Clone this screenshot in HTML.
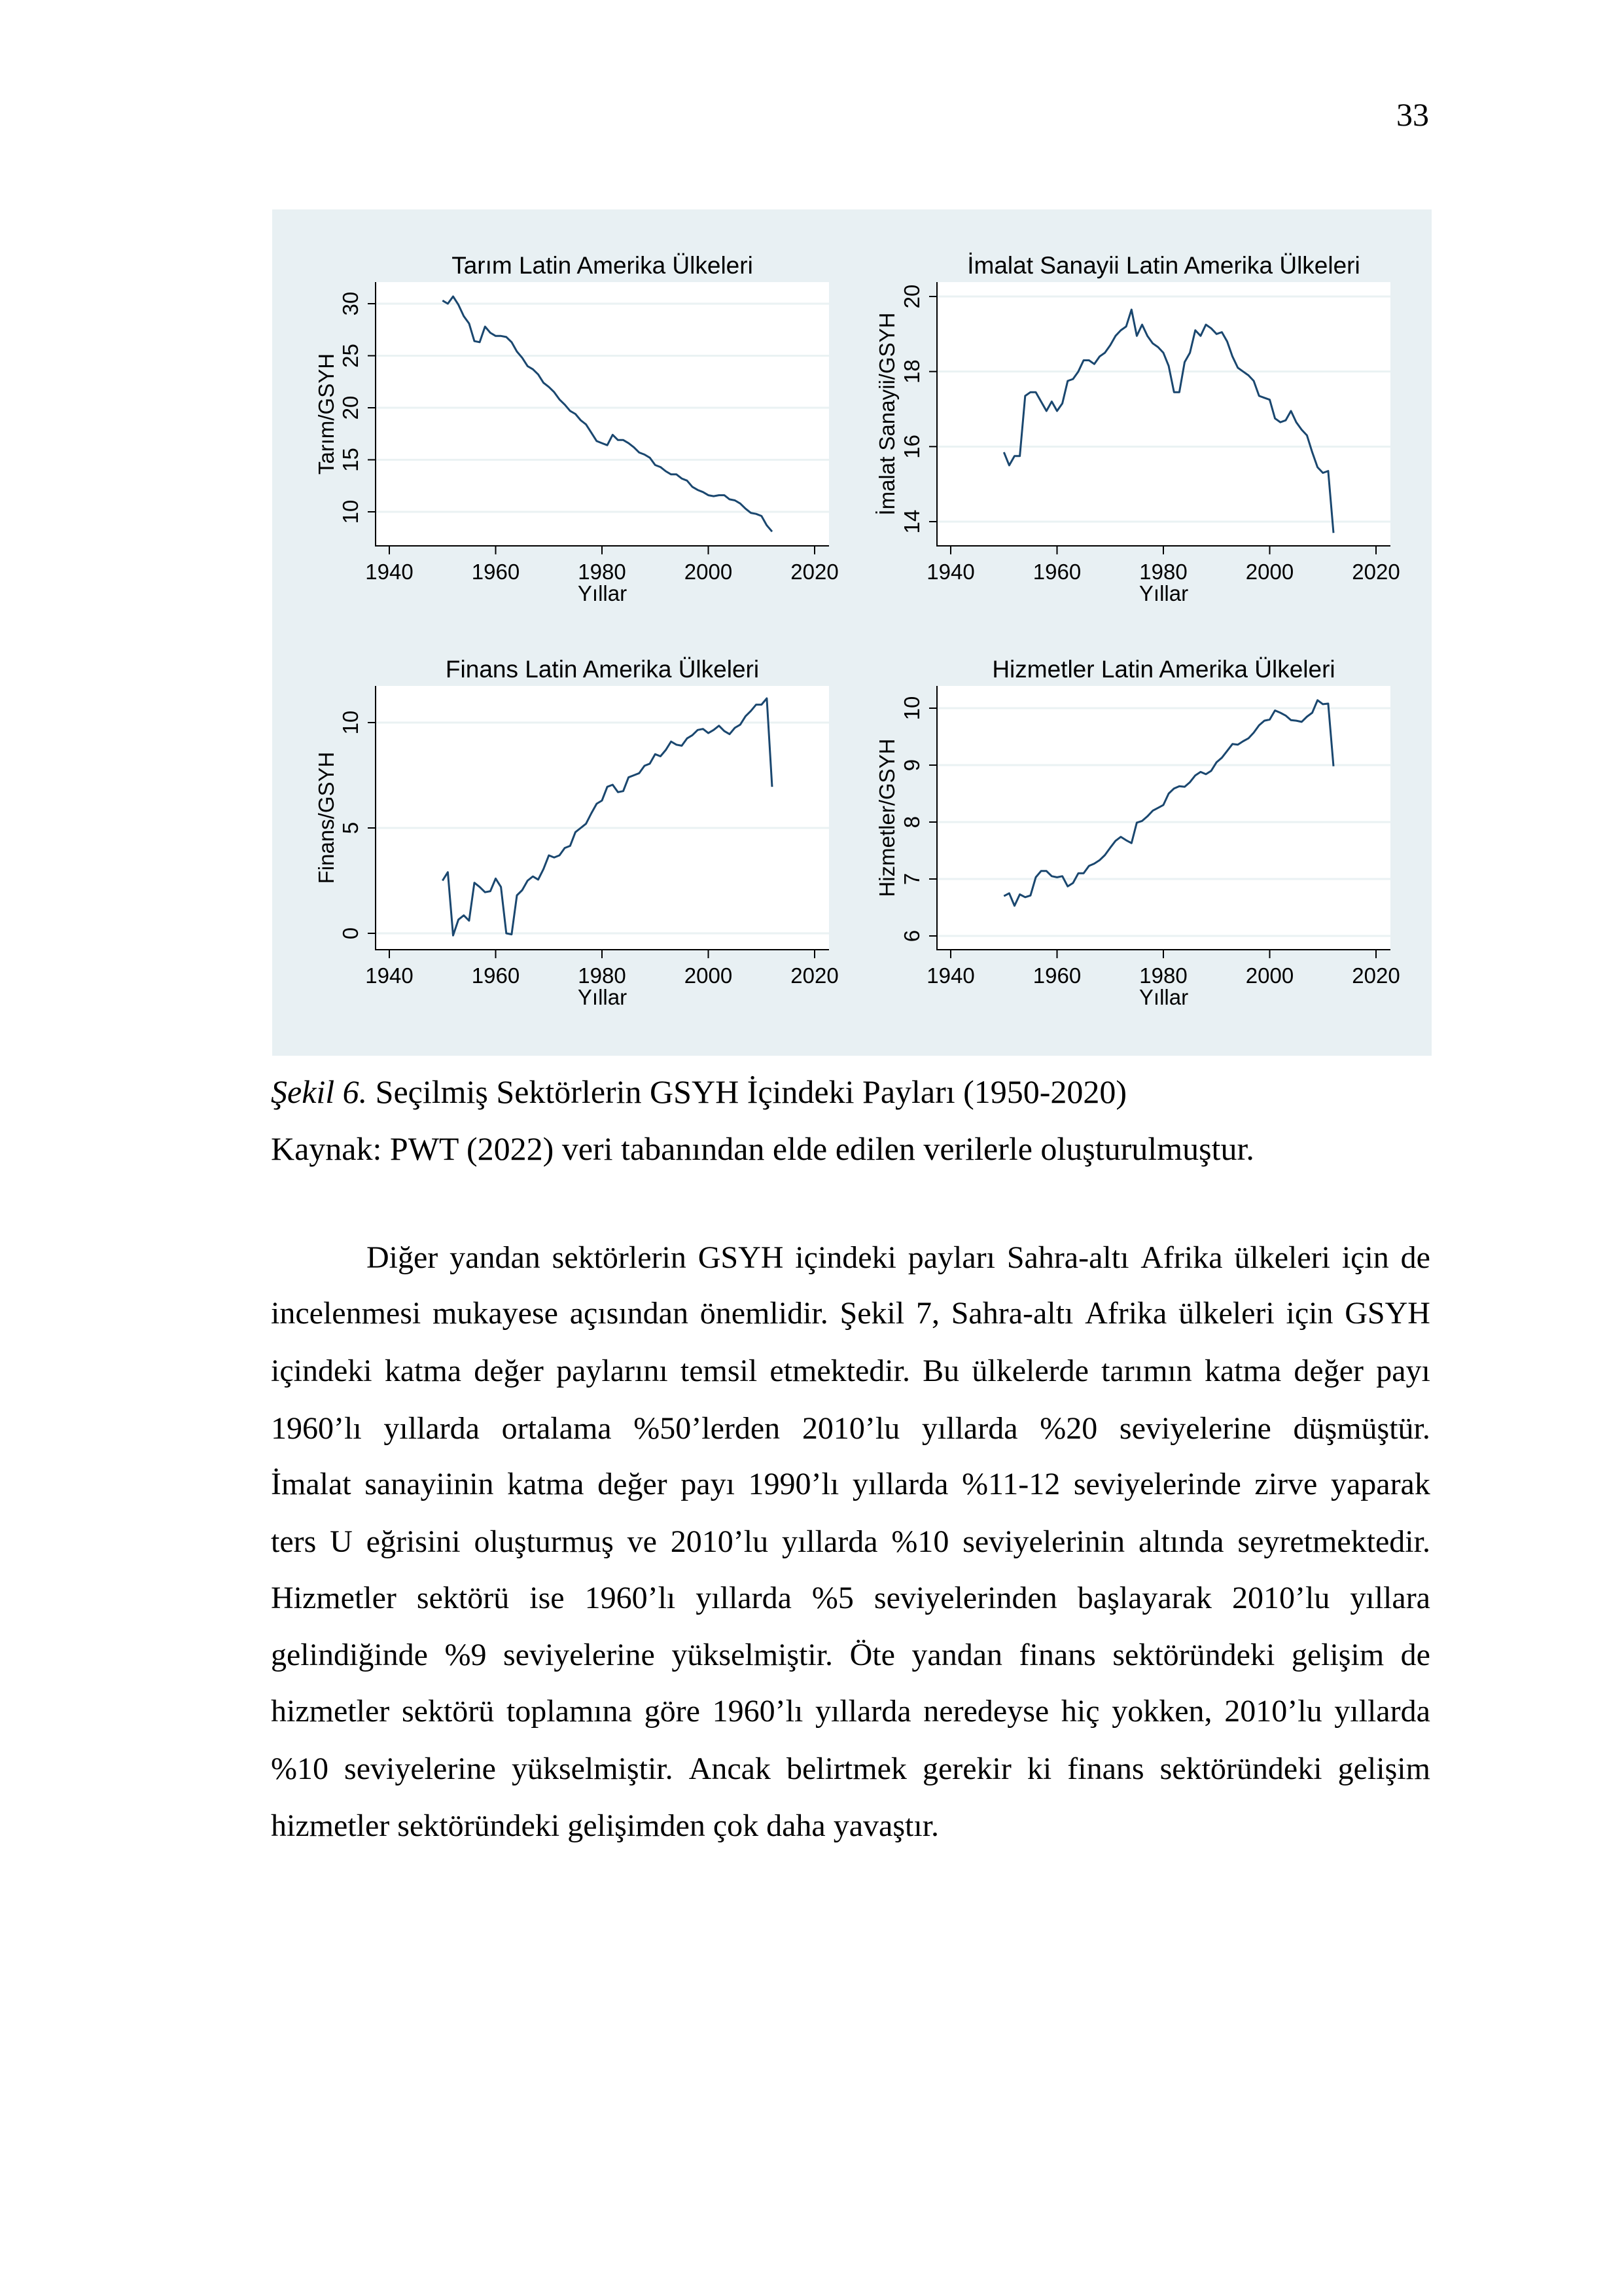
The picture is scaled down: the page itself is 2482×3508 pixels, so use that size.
<!DOCTYPE html>
<html><head><meta charset="utf-8">
<style>
html,body{margin:0;padding:0;background:#fff;}
body{width:2482px;height:3508px;position:relative;overflow:hidden;font-family:"Liberation Serif",serif;color:#000;}
.ln{position:absolute;left:414px;width:1772px;font-size:48px;line-height:60px;white-space:nowrap;}
.cap{font-size:50px;}
.j{display:flex;justify-content:space-between;}
svg text{font-family:"Liberation Sans",sans-serif;}
</style></head><body>
<div style="position:absolute;right:298px;top:145px;font-size:50px;line-height:60px;">33</div>

<svg id="fig" width="2482" height="1700" style="position:absolute;left:0;top:0"></svg>

<div class="ln cap" style="top:1638px;"><i>Şekil 6.</i> Seçilmiş Sektörlerin GSYH İçindeki Payları (1950-2020)</div>
<div class="ln cap" style="top:1725px;">Kaynak: PWT (2022) veri tabanından elde edilen verilerle oluşturulmuştur.</div>

<div>
<div class="ln j" style="top:1892px;left:560px;width:1626px;">Diğer yandan sektörlerin GSYH içindeki payları Sahra-altı Afrika ülkeleri için de</div>
<div class="ln j" style="top:1977px;">incelenmesi mukayese açısından önemlidir. Şekil 7, Sahra-altı Afrika ülkeleri için GSYH</div>
<div class="ln j" style="top:2065px;">içindeki katma değer paylarını temsil etmektedir. Bu ülkelerde tarımın katma değer payı</div>
<div class="ln j" style="top:2153px;">1960’lı yıllarda ortalama %50’lerden 2010’lu yıllarda %20 seviyelerine düşmüştür.</div>
<div class="ln j" style="top:2238px;">İmalat sanayiinin katma değer payı 1990’lı yıllarda %11-12 seviyelerinde zirve yaparak</div>
<div class="ln j" style="top:2326px;">ters U eğrisini oluşturmuş ve 2010’lu yıllarda %10 seviyelerinin altında seyretmektedir.</div>
<div class="ln j" style="top:2412px;">Hizmetler sektörü ise 1960’lı yıllarda %5 seviyelerinden başlayarak 2010’lu yıllara</div>
<div class="ln j" style="top:2499px;">gelindiğinde %9 seviyelerine yükselmiştir. Öte yandan finans sektöründeki gelişim de</div>
<div class="ln j" style="top:2585px;">hizmetler sektörü toplamına göre 1960’lı yıllarda neredeyse hiç yokken, 2010’lu yıllarda</div>
<div class="ln j" style="top:2673px;">%10 seviyelerine yükselmiştir. Ancak belirtmek gerekir ki finans sektöründeki gelişim</div>
<div class="ln" style="top:2760px;">hizmetler sektöründeki gelişimden çok daha yavaştır.</div>
</div>

<script>
const startYear = 1950;
const tarim = [30.3,30.0,30.7,29.9,28.8,28.1,26.4,26.3,27.8,27.2,26.9,26.9,26.8,26.3,25.4,24.8,24.0,23.7,23.2,22.4,22.0,21.5,20.8,20.3,19.7,19.4,18.8,18.4,17.6,16.8,16.6,16.4,17.4,16.9,16.9,16.6,16.2,15.7,15.5,15.2,14.5,14.3,13.9,13.6,13.6,13.2,13.0,12.4,12.1,11.9,11.6,11.5,11.6,11.6,11.2,11.1,10.8,10.3,9.9,9.8,9.6,8.7,8.1];
const imalat = [15.85,15.5,15.75,15.75,17.35,17.45,17.45,17.2,16.95,17.2,16.95,17.15,17.75,17.8,18.0,18.3,18.3,18.2,18.4,18.5,18.7,18.95,19.1,19.2,19.65,18.95,19.25,18.95,18.75,18.65,18.5,18.15,17.45,17.45,18.25,18.5,19.1,18.95,19.25,19.15,19.0,19.05,18.8,18.4,18.1,18.0,17.9,17.75,17.35,17.3,17.25,16.75,16.65,16.7,16.95,16.65,16.45,16.3,15.85,15.45,15.3,15.35,13.7];
const finans = [2.5,2.9,-0.1,0.65,0.85,0.6,2.4,2.2,1.95,2.0,2.6,2.2,0.0,-0.05,1.8,2.05,2.5,2.7,2.55,3.05,3.7,3.6,3.7,4.05,4.15,4.8,5.0,5.2,5.7,6.15,6.3,6.95,7.05,6.7,6.75,7.4,7.5,7.6,7.95,8.05,8.5,8.4,8.7,9.1,8.95,8.9,9.25,9.4,9.65,9.7,9.5,9.65,9.85,9.6,9.45,9.75,9.9,10.3,10.55,10.85,10.85,11.15,6.95];
const hizmetler = [6.7,6.75,6.53,6.73,6.68,6.71,7.03,7.14,7.14,7.05,7.03,7.05,6.87,6.93,7.1,7.1,7.23,7.27,7.33,7.42,7.55,7.67,7.74,7.68,7.63,7.99,8.02,8.1,8.2,8.25,8.3,8.5,8.59,8.63,8.62,8.7,8.82,8.88,8.84,8.9,9.05,9.13,9.25,9.37,9.36,9.42,9.47,9.57,9.7,9.78,9.8,9.96,9.92,9.87,9.79,9.78,9.76,9.85,9.92,10.14,10.07,10.08,8.98];
const xTicks = [1940,1960,1980,2000,2020];
const yTicksTarim = [10,15,20,25,30];
const yTicksImalat = [14,16,18,20];
const yTicksFinans = [0,5,10];
const yTicksHizmetler = [6,7,8,9,10];
const titles = ["Tarım Latin Amerika Ülkeleri","İmalat Sanayii Latin Amerika Ülkeleri","Finans Latin Amerika Ülkeleri","Hizmetler Latin Amerika Ülkeleri"];
const yTitles = ["Tarım/GSYH","İmalat Sanayii/GSYH","Finans/GSYH","Hizmetler/GSYH"];

document.querySelectorAll('.j').forEach(d=>{
  const words=d.textContent.trim().split(/\s+/);
  d.textContent='';
  words.forEach(w=>{const s=document.createElement('span');s.textContent=w;d.appendChild(s);});
});

const NS="http://www.w3.org/2000/svg";
const svg=document.getElementById('fig');
function mk(tag,attrs,parent){const e=document.createElementNS(NS,tag);for(const k in attrs)e.setAttribute(k,attrs[k]);(parent||svg).appendChild(e);return e;}

const bg=mk('rect',{x:416,y:320,width:1772,height:1293,fill:'#e8f0f3'});



const panels=[
 {L:574,R:1267,T:431,B:834,x0:595,x1:1245,va:30,pa:464,vb:10,pb:782,yt:510,tk:547,data:tarim,ticks:yTicksTarim,name:'tarim'},
 {L:1432,R:2125,T:431,B:834,x0:1453,x1:2103,va:20,pa:453,vb:14,pb:797,yt:1367,tk:1405,data:imalat,ticks:yTicksImalat,name:'imalat'},
 {L:574,R:1267,T:1048,B:1451,x0:595,x1:1245,va:10,pa:1104,vb:0,pb:1426,yt:510,tk:547,data:finans,ticks:yTicksFinans,name:'finans'},
 {L:1432,R:2125,T:1048,B:1451,x0:1453,x1:2103,va:10,pa:1082,vb:6,pb:1430,yt:1367,tk:1405,data:hizmetler,ticks:yTicksHizmetler,name:'hizmetler'}
];

panels.forEach((p,i)=>{
  const g=mk('g',{});
  
  
  const xs=v=>p.x0+(v-1940)*(p.x1-p.x0)/80;
  const ys=v=>p.pb+(v-p.vb)*(p.pa-p.pb)/(p.va-p.vb);
  const pa=mk('rect',{x:p.L,y:p.T,width:p.R-p.L,height:p.B-p.T,fill:'#fff'},g);
  
  
  p.ticks.forEach(t=>{
    const y=ys(t);
    const gl=mk('line',{x1:p.L,x2:p.R,y1:y,y2:y,stroke:'#eaf2f3','stroke-width':3},g);
    
    
    mk('line',{x1:p.L-12,x2:p.L,y1:y,y2:y,stroke:'#000','stroke-width':2},g);
    const tl=mk('text',{x:p.tk,y:y,'text-anchor':'middle','font-size':33,transform:`rotate(-90 ${p.tk} ${y})`},g);
    tl.textContent=t;
    
    
  });
  xTicks.forEach(t=>{
    const x=xs(t);
    mk('line',{x1:x,x2:x,y1:p.B,y2:p.B+13,stroke:'#000','stroke-width':2},g);
    const tl=mk('text',{x:x,y:p.B+51,'text-anchor':'middle','font-size':33},g);
    tl.textContent=t;
    
    
  });
  mk('line',{x1:p.L,x2:p.L,y1:p.T,y2:p.B+1,stroke:'#000','stroke-width':2},g);
  mk('line',{x1:p.L-1,x2:p.R,y1:p.B,y2:p.B,stroke:'#000','stroke-width':2},g);
  const pts=p.data.map((v,k)=>xs(startYear+k).toFixed(1)+','+ys(v).toFixed(1)).join(' ');
  const pl=mk('polyline',{points:pts,fill:'none',stroke:'#1a476f','stroke-width':3,'stroke-linejoin':'round'},g);
  
  
  const cx=(p.L+p.R)/2;
  const tt=mk('text',{x:cx,y:p.T-13,'text-anchor':'middle','font-size':37},g);
  tt.textContent=titles[i];
  
  
  const xt=mk('text',{x:cx,y:p.B+84,'text-anchor':'middle','font-size':33},g);
  xt.textContent='Yıllar';
  
  
  const cy=(p.T+p.B)/2;
  const yt=mk('text',{x:p.yt,y:cy,'text-anchor':'middle','font-size':33,transform:`rotate(-90 ${p.yt} ${cy})`},g);
  yt.textContent=yTitles[i];
  
  
});
</script>
</body></html>
